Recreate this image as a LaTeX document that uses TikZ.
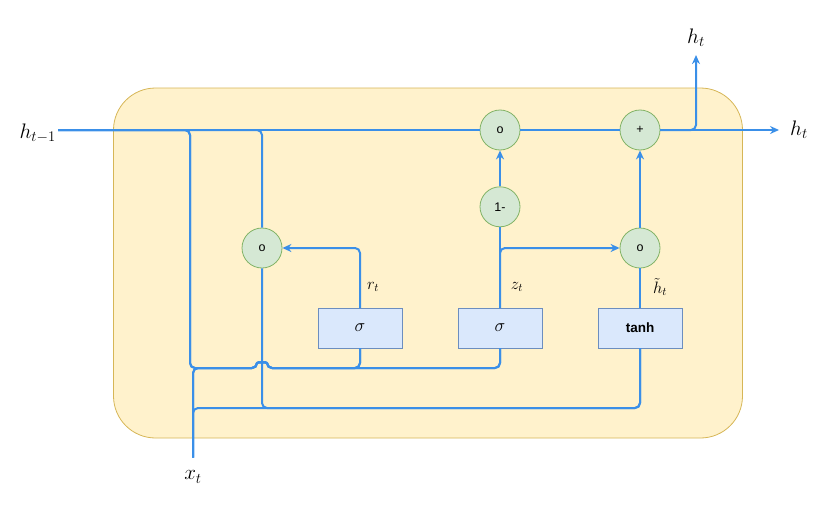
\RequirePackage{fix-cm}
\documentclass[tikz,border=0pt]{standalone}
\usepackage{fontspec}
\setsansfont{Liberation Sans}
\usepackage{amsmath}
\usetikzlibrary{arrows.meta, positioning}
\definecolor{cellfill}{RGB}{255,242,204}
\definecolor{celldraw}{RGB}{214,182,86}
\definecolor{gatefill}{RGB}{218,232,252}
\definecolor{gatedraw}{RGB}{108,142,191}
\definecolor{opfill}{RGB}{213,232,212}
\definecolor{opdraw}{RGB}{130,179,102}
\definecolor{wireblue}{RGB}{58,143,232}

\begin{document}
\begin{tikzpicture}[
      x=1pt, y=-1pt,
      cell/.style={draw=celldraw, fill=cellfill, rounded corners=42pt,
                   minimum width=629pt, minimum height=350pt, line width=0.8pt},
      gate/.style={draw=gatedraw, fill=gatefill, minimum width=84pt,
                   minimum height=40pt, inner sep=0pt, outer sep=0pt,
                   line width=0.8pt, font=\fontsize{18}{20}\selectfont},
      op/.style={circle, draw=opdraw, fill=opfill, minimum size=40pt,
                 inner sep=0pt, line width=0.8pt,
                 font=\sffamily\fontsize{12.5}{14}\selectfont},
      big/.style={font=\fontsize{21}{24}\selectfont, inner sep=2pt},
      small/.style={font=\fontsize{16.5}{19}\selectfont, inner sep=1pt},
      wire/.style={draw=wireblue, line width=2pt, rounded corners=5pt},
      arrow/.style={wire, -{Stealth[length=9pt, width=8pt]}},
  ]
    \useasboundingbox (0,0) rectangle (832,511);

    \node[cell] (cellbox) at (428,263) {};

    \node[gate] (sr) at (360,328) {$\sigma$};
    \node[gate, right=56pt of sr] (sz) {$\sigma$};
    \node[gate, right=56pt of sz, font=\sffamily\bfseries\fontsize{13.5}{16}\selectfont] (th) {tanh};

    \node[op] (rmul) at (262,248) {o};
    \node[op] (omul) at (500,130) {o};
    \node[op, below=36pt of omul] (oneminus) {1-};
    \node[op] (plus) at (640,130) {+};
    \node[op] (hmul) at (640,248) {o};

    \node[big, anchor=east] (hprev) at (58,133) {$h_{t-1}$};
    \node[big] (xt) at (193,477) {$x_t$};
    \node[big] (htop) at (696,38) {$h_t$};
    \node[big] (hright) at (799,130) {$h_t$};
    \node[small] (rlab) at (373,287) {$r_t$};
    \node[small] (zlab) at (517,287) {$z_t$};
    \node[small] (hlab) at (660,287) {$\tilde{h}_t$};

    \coordinate (hin)  at (hprev.east |- omul.west);
    \coordinate (hbus) at (190,368);
    \coordinate (hopl) at (257,368);
    \coordinate (hopr) at (267,368);
    \coordinate (tbus) at (640,408);

    \draw[wire] (hin) -- (omul);
    \draw[wire] (hin) -| (rmul.north);
    \draw[wire] (hin) -| (hbus) -- (hopl) .. controls ([yshift=6pt]hopl) and ([yshift=6pt]hopr) .. (hopr) -| (sr.south);
    \draw[wire] (hin) -| (hbus) -- (hopl) .. controls ([yshift=6pt]hopl) and ([yshift=6pt]hopr) .. (hopr) -| (sz.south);
    \draw[wire, shorten <=11pt] (xt.north) |- (hopl) .. controls ([yshift=6pt]hopl) and ([yshift=6pt]hopr) .. (hopr) -| (sz.south);
    \draw[wire, shorten <=11pt] (xt.north) |- (hopl) .. controls ([yshift=6pt]hopl) and ([yshift=6pt]hopr) .. (hopr) -| (sr.south);
    \draw[wire, shorten <=11pt] (xt.north) |- (tbus) -- (th.south);
    \draw[wire] (rmul.south) |- (tbus) -- (th.south);

    \draw[arrow] (sr.north) |- (rmul.east);
    \draw[wire]  (sz.north) -- (oneminus.south);
    \draw[arrow] (sz.north) |- (hmul.west);
    \draw[wire]  (th.north) -- (hmul.south);
    \draw[arrow] (oneminus) -- (omul);
    \draw[arrow] (hmul) -- (plus);
    \draw[wire]  (omul) -- (plus);
    \draw[arrow, shorten >=6pt] (plus.east) -| (htop.south);
    \draw[arrow, shorten >=9pt] (plus.east) -- (hright.west);

  \end{tikzpicture}
\end{document}
